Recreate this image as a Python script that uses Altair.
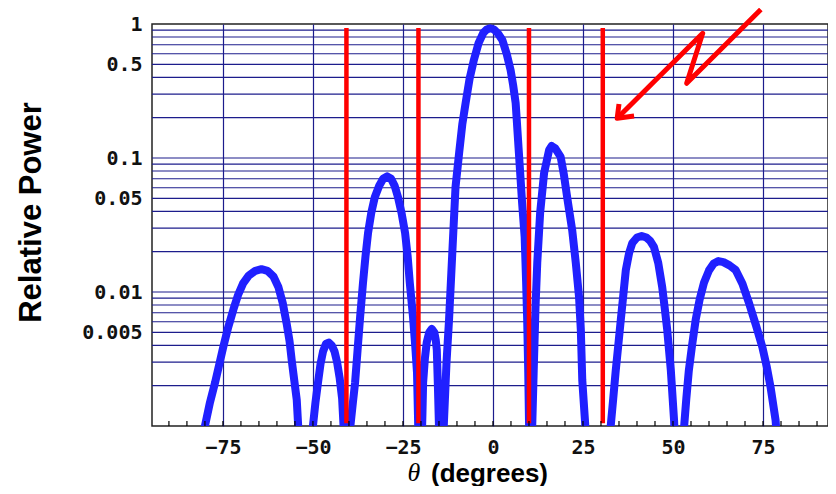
import altair as alt
import pandas as pd

# ---- data ----
theta_deg = [
    -82.0, -81.0, -80.0, -78.6, -77.2, -76.0, -74.9, -73.5, -72.1, -70.8, -69.4, -67.8, -66.0,
    -64.3, -62.6, -61.0, -59.6, -58.4, -57.3, -56.5, -55.9, -55.2, -54.5, -54.1, -53.6, -52.2,
    -50.6, -50.0, -49.3, -48.6, -47.9, -47.2, -46.4, -45.6, -44.8, -44.0, -43.3, -42.6, -41.9,
    -41.5, -41.1, -40.6,
    -40.1, -39.6, -38.9, -38.3, -37.6, -36.9, -36.1, -35.4, -34.7, -33.8, -32.8, -31.6, -30.5,
    -29.4, -28.3, -27.3, -26.4, -25.4, -24.4, -23.7, -23.1, -22.2, -21.6, -21.1, -20.8, -20.6, -20.3,
    -19.9, -19.6, -19.4, -18.9, -18.4, -17.7, -17.0, -16.3, -15.9, -15.6, -15.3, -15.0, -14.7, -14.3,
    -14.0, -13.6, -12.9, -12.2, -11.3, -10.4, -9.4, -8.5, -7.6, -6.5, -5.3, -4.0, -2.7, -1.7, -0.8,
    0.3, 1.4, 2.6, 3.8, 4.9, 5.6, 6.3, 7.2, 8.1, 8.8, 9.2, 9.5, 9.8, 10.0, 10.2, 10.35,
    10.5, 10.9, 11.3, 11.8, 12.3, 13.1, 14.2, 15.6, 16.3, 17.3, 18.8, 19.7, 20.6, 22.0, 23.0, 23.9,
    24.4, 24.8, 25.6, 26.0, 28.5,
    32.3, 32.7, 33.4, 34.1, 34.8, 35.5, 36.2, 36.9, 37.8, 38.7, 40.0, 41.3, 42.6, 43.7, 44.7, 45.9,
    47.0, 47.7, 48.4, 49.4, 50.3, 50.7, 51.6,
    52.7, 53.1, 53.7, 54.4, 55.3, 56.3, 57.4, 58.6, 60.0, 61.3, 62.6, 64.0, 65.7, 67.4, 69.3, 71.1,
    73.0, 74.8, 76.0, 77.1, 78.5, 79.2, 80.5,
]
rel_power = [
    0.0003, 0.0006, 0.0010, 0.0015, 0.0021, 0.0029, 0.0039, 0.0055, 0.0074, 0.0095, 0.0116, 0.0133, 0.0144,
    0.0148, 0.0144, 0.0131, 0.0109, 0.0083, 0.0058, 0.0043, 0.0031, 0.0022, 0.00157, 0.0010, 0.0006, 0.0002,
    0.0006, 0.0010, 0.0015, 0.0021, 0.0029, 0.0036, 0.0041, 0.0042, 0.0040, 0.0036, 0.0030, 0.0023, 0.0016,
    0.0010, 0.0006, 0.0002,
    0.0006, 0.0010, 0.0015, 0.0021, 0.0037, 0.0065, 0.0117, 0.0185, 0.0275, 0.0390, 0.0512, 0.0620, 0.0700,
    0.0730, 0.0700, 0.0620, 0.0512, 0.0390, 0.0275, 0.0185, 0.0117, 0.0065, 0.0040, 0.0025, 0.0011, 0.0006, 0.0002,
    0.0006, 0.0012, 0.0021, 0.0032, 0.0042, 0.0050, 0.0053, 0.0050, 0.0044, 0.0037, 0.0020, 0.0010, 0.0006, 0.0002,
    0.0006, 0.0011, 0.0030, 0.0062, 0.0195, 0.0608, 0.109, 0.18, 0.257, 0.39, 0.539, 0.72, 0.857, 0.91, 0.93,
    0.91, 0.85, 0.76, 0.60, 0.453, 0.35, 0.257, 0.109, 0.046, 0.0257, 0.012, 0.0062, 0.0025, 0.0011, 0.0006, 0.0002,
    0.0005, 0.0010, 0.0025, 0.0075, 0.0165, 0.0389, 0.0773, 0.115, 0.123, 0.118, 0.102, 0.075, 0.051, 0.029, 0.0165, 0.0092,
    0.0052, 0.0022, 0.00105, 0.0005, 0.0002,
    0.0006, 0.0010, 0.0016, 0.0026, 0.0040, 0.0062, 0.0095, 0.0146, 0.0195, 0.0232, 0.0255, 0.0262, 0.0255, 0.0240, 0.0217, 0.0165,
    0.0109, 0.0076, 0.0052, 0.0026, 0.0011, 0.0006, 0.0002,
    0.0006, 0.0010, 0.0016, 0.0026, 0.0040, 0.0062, 0.0088, 0.0117, 0.0145, 0.0163, 0.0170, 0.0167, 0.0158, 0.0146, 0.0115, 0.0083,
    0.0057, 0.0039, 0.0028, 0.00195, 0.0011, 0.0006, 0.0002,
]

red_theta = [-40.7, -20.7, 10.0, 30.5]
red_low = 0.00105
red_high = 0.933

x_label_values = [-75, -50, -25, 0, 25, 50, 75]
y_label_values = [1, 0.5, 0.1, 0.05, 0.01, 0.005]
y_grid_values = [0.9, 0.8, 0.7, 0.6, 0.5, 0.4, 0.3, 0.2, 0.1,
                 0.09, 0.08, 0.07, 0.06, 0.05, 0.04, 0.03, 0.02, 0.01,
                 0.009, 0.008, 0.007, 0.006, 0.005, 0.004, 0.003, 0.002]
minor_tick_values = list(range(-90, 91, 5))

arrow_shaft_x = [74.4, 53.8, 58.25, 34.5]
arrow_shaft_y = [1.283, 0.361, 0.852, 0.198]
arrow_barb_x = [35.0, 34.5, 39.2]
arrow_barb_y = [0.253, 0.198, 0.206]

x_title = "(degrees)"
x_symbol = "θ"
y_title = "Relative Power"

# ---- build tables ----
curve = pd.DataFrame({"theta": theta_deg, "power": rel_power})
reds = pd.DataFrame({"theta": red_theta, "power": [red_low] * len(red_theta),
                     "hi": [red_high] * len(red_theta)})
ygrid = pd.DataFrame({"power": y_grid_values})
minor = pd.DataFrame({"theta": minor_tick_values})
arrow = pd.DataFrame({
    "seg": ["shaft"] * len(arrow_shaft_x) + ["barb"] * len(arrow_barb_x),
    "i": list(range(len(arrow_shaft_x))) + list(range(len(arrow_barb_x))),
    "theta": arrow_shaft_x + arrow_barb_x,
    "power": arrow_shaft_y + arrow_barb_y,
})
sym = pd.DataFrame({"t": [x_symbol]})

xscale = alt.Scale(domain=[-94.7, 93.05], nice=False, zero=False)
yscale = alt.Scale(type="log", domain=[0.001, 1], nice=False)

GRID = "#1c1c8c"
LABEL_FONT = "DejaVu Sans Mono"

x_axis = alt.Axis(
    values=x_label_values, grid=True, gridColor=GRID, gridWidth=1.2, gridOpacity=1,
    ticks=False, domain=False, labelFlush=False,
    labelFont=LABEL_FONT, labelFontSize=20, labelFontWeight="bold", labelColor="#111",
    labelPadding=11, labelBaseline="top",
    title=x_title, titleFont="Liberation Sans", titleFontSize=26, titleFontWeight="bold",
    titleColor="#000", titleX=337, titleY=55, titleBaseline="alphabetic", titleAlign="center",
)
y_axis = alt.Axis(
    values=y_label_values, grid=False, ticks=False, domain=False, format="~g",
    labelFont=LABEL_FONT, labelFontSize=20, labelFontWeight="bold", labelColor="#111",
    labelPadding=10,
    title=y_title, titleFont="Liberation Sans", titleFontSize=31, titleFontWeight="bold",
    titleColor="#000", titleX=-121, titleY=188, titleBaseline="middle", titleAlign="center",
    titleAngle=270,
)

X = alt.X("theta:Q", scale=xscale, axis=x_axis, title=x_title)
Y = alt.Y("power:Q", scale=yscale, axis=y_axis, title=y_title)

grid_layer = alt.Chart(ygrid).mark_rule(color=GRID, strokeWidth=1.2).encode(y=Y)

curve_layer = alt.Chart(curve).mark_line(
    color="#2020ff", strokeWidth=8, clip=True, strokeJoin="round"
).encode(x=X, y=Y)

red_layer = alt.Chart(reds).mark_rule(color="#ff0000", strokeWidth=4.5).encode(
    x=X, y=Y, y2="hi:Q",
)

arrow_layer = alt.Chart(arrow).mark_line(
    color="#ff0000", strokeWidth=5, strokeJoin="round", strokeCap="butt"
).encode(x=X, y=Y, detail="seg:N", order="i:Q")

minor_layer = alt.Chart(minor).mark_rule(color="#000", strokeWidth=1.2).encode(
    x=X, y=alt.value(402), y2=alt.value(397),
)

sym_layer = alt.Chart(sym).mark_text(
    font="Liberation Serif", fontStyle="italic", fontSize=26, align="center", baseline="alphabetic",
    color="#000",
).encode(text="t:N", x=alt.value(262), y=alt.value(457))

chart = alt.layer(
    grid_layer, curve_layer, red_layer, arrow_layer, minor_layer, sym_layer
).properties(
    width=676, height=402,
    padding={"left": 144, "top": 16, "right": 0, "bottom": 60},
    autosize=alt.AutoSizeParams(type="none"),
    background="white",
).configure_view(stroke="#222", strokeWidth=1.5)

chart.save("out.html", embed_options={"renderer": "svg", "actions": False})
